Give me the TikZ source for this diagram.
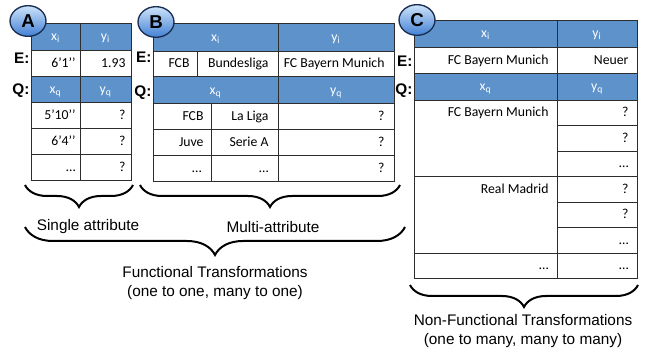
\documentclass[tikz,border=0pt]{standalone}
\usepackage{fontspec}
\setmainfont{Liberation Sans}
\newfontfamily\cellfont{Carlito}
\usetikzlibrary{shapes.geometric,decorations.pathreplacing}

\definecolor{hdrblue}{RGB}{94,146,202}
\definecolor{gridline}{RGB}{45,45,45}
\definecolor{badgetop}{RGB}{205,227,250}
\definecolor{badgebot}{RGB}{66,128,212}
\definecolor{badgeline}{RGB}{25,45,80}

\tikzset{every picture/.style={line width=0.75pt}}

\begin{document}
\begin{tikzpicture}[x=0.75pt,y=0.75pt,yscale=-1,xscale=1,
  hdr/.style={draw=gridline,fill=hdrblue},
  grid/.style={draw=gridline},
  txt/.style={font=\cellfont\fontsize{10.3}{12}\selectfont,inner sep=0.75pt,text height=7pt,text depth=2pt},
  htxt/.style={txt,text=white},
  rtxt/.style={txt,anchor=east},
  rowlbl/.style={font=\bfseries\fontsize{11.5}{13}\selectfont,anchor=east,inner sep=0.75pt},
  badge/.style={ellipse,draw=badgeline,line width=1pt,top color=badgetop,bottom color=badgebot,minimum width=27pt,minimum height=23pt,inner sep=0pt,font=\bfseries\fontsize{14}{16}\selectfont},
  curly/.style={decorate,decoration={brace,mirror,amplitude=#1},line width=1.5pt},
  caption/.style={font=\fontsize{11.5}{14.2}\selectfont,align=center,inner sep=0.75pt}]
\path[use as bounding box] (0,0) rectangle (660,352);

%Shape: Table A (single attribute)
\draw[hdr] (31,24) rectangle (131,51);
\draw[grid] (31,51) rectangle (131,77);
\draw[hdr] (31,77) rectangle (131,103);
\draw[grid] (31,103) rectangle (131,181);
\draw[grid] (31,129) -- (131,129) (31,155) -- (131,155);
\draw[grid] (80,24) -- (80,181);

% Text Node
\draw (55.5,37.5) node (aXi) [htxt] {x\textsubscript{i}};
\draw (105.5,37.5) node (aYi) [htxt] {y\textsubscript{i}};
\draw (77,64) node (aE1) [rtxt] {6’1’’};
\draw (127,64) node (aE2) [rtxt] {1.93};
\draw (55.5,90) node (aXq) [htxt] {x\textsubscript{q}};
\draw (105.5,90) node (aYq) [htxt] {y\textsubscript{q}};
\draw (77,116) node (aQ1) [rtxt] {5’10’’};
\draw (127,116) node (aA1) [rtxt] {?};
\draw (77,142) node (aQ2) [rtxt] {6’4’’};
\draw (127,142) node (aA2) [rtxt] {?};
\draw (77,168) node (aQ3) [rtxt] {…};
\draw (127,168) node (aA3) [rtxt] {?};
\draw (31,58) node (aE) [rowlbl] {E:};
\draw (31,91) node (aQ) [rowlbl] {Q:};

%Shape: Table B (multi-attribute)
\draw[hdr] (153,24) rectangle (394,52);
\draw[grid] (153,52) rectangle (394,77);
\draw[hdr] (153,77) rectangle (394,104);
\draw[grid] (153,104) rectangle (394,182);
\draw[grid] (153,130) -- (394,130) (153,156) -- (394,156);
\draw[grid] (278,24) -- (278,182);
\draw[grid] (197,52) -- (197,77);
\draw[grid] (211,104) -- (211,182);

% Text Node
\draw (215.5,38) node (bXi) [htxt] {x\textsubscript{i}};
\draw (336,38) node (bYi) [htxt] {y\textsubscript{i}};
\draw (191,64.5) node (bE1) [rtxt] {FCB};
\draw (270,64.5) node (bE2) [rtxt] {Bundesliga};
\draw (386,64.5) node (bE3) [rtxt] {FC Bayern Munich};
\draw (215.5,91) node (bXq) [htxt] {x\textsubscript{q}};
\draw (336,91) node (bYq) [htxt] {y\textsubscript{q}};
\draw (205,117) node (bQ1) [rtxt] {FCB};
\draw (270,117) node (bL1) [rtxt] {La Liga};
\draw (386,117) node (bA1) [rtxt] {?};
\draw (205,143) node (bQ2) [rtxt] {Juve};
\draw (270,143) node (bL2) [rtxt] {Serie A};
\draw (386,143) node (bA2) [rtxt] {?};
\draw (203,169) node (bQ3) [rtxt] {…};
\draw (270,169) node (bL3) [rtxt] {…};
\draw (386,169) node (bA3) [rtxt] {?};
\draw (153,57.5) node (bE) [rowlbl] {E:};
\draw (153,93) node (bQ) [rowlbl] {Q:};

%Shape: Table C (non-functional)
\draw[hdr] (414,21) rectangle (637,48);
\draw[grid] (414,48) rectangle (637,74);
\draw[hdr] (414,74) rectangle (637,101);
\draw[grid] (414,101) rectangle (637,279);
\draw[grid] (414,177) -- (637,177) (414,254) -- (637,254);
\draw[grid] (557,126) -- (637,126) (557,152) -- (637,152) (557,203) -- (637,203) (557,228) -- (637,228);
\draw[grid] (557,21) -- (557,279);

% Text Node
\draw (485.5,34.5) node (cXi) [htxt] {x\textsubscript{i}};
\draw (597,34.5) node (cYi) [htxt] {y\textsubscript{i}};
\draw (550,61) node (cE1) [rtxt] {FC Bayern Munich};
\draw (630,61) node (cE2) [rtxt] {Neuer};
\draw (485.5,87.5) node (cXq) [htxt] {x\textsubscript{q}};
\draw (597,87.5) node (cYq) [htxt] {y\textsubscript{q}};
\draw (550,113.5) node (cQ1) [rtxt] {FC Bayern Munich};
\draw (630,113.5) node (cA1) [rtxt] {?};
\draw (630,139) node (cA2) [rtxt] {?};
\draw (630,164.5) node (cA3) [rtxt] {…};
\draw (550,190) node (cQ2) [rtxt] {Real Madrid};
\draw (630,190) node (cA4) [rtxt] {?};
\draw (630,215.5) node (cA5) [rtxt] {?};
\draw (630,241) node (cA6) [rtxt] {…};
\draw (550,266.5) node (cQ3) [rtxt] {…};
\draw (630,266.5) node (cA7) [rtxt] {…};
\draw (414,61) node (cE) [rowlbl] {E:};
\draw (414,91) node (cQ) [rowlbl] {Q:};

%Shape: Ellipse badges
\draw (28,21) node (badgeA) [badge] {A};
\draw (156,22) node (badgeB) [badge] {B};
\draw (417,20) node (badgeC) [badge] {C};

%Braces
\draw[curly=16.5pt] (25,185) -- (133,185);
\draw[curly=16.5pt] (140,185) -- (400,185);
\draw[curly=21pt] (25,227) -- (405,227);
\draw[curly=16.5pt] (410,285) -- (638,285);

% Text Node
\draw (88,227) node (single) [caption] {Single attribute};
\draw (273,227) node (multi) [caption] {Multi-attribute};
\draw (215,283.5) node (func) [caption] {Functional Transformations\\(one to one, many to one)};
\draw (523,331) node (nonfunc) [caption] {Non-Functional Transformations\\(one to many, many to many)};

\end{tikzpicture}
\end{document}
